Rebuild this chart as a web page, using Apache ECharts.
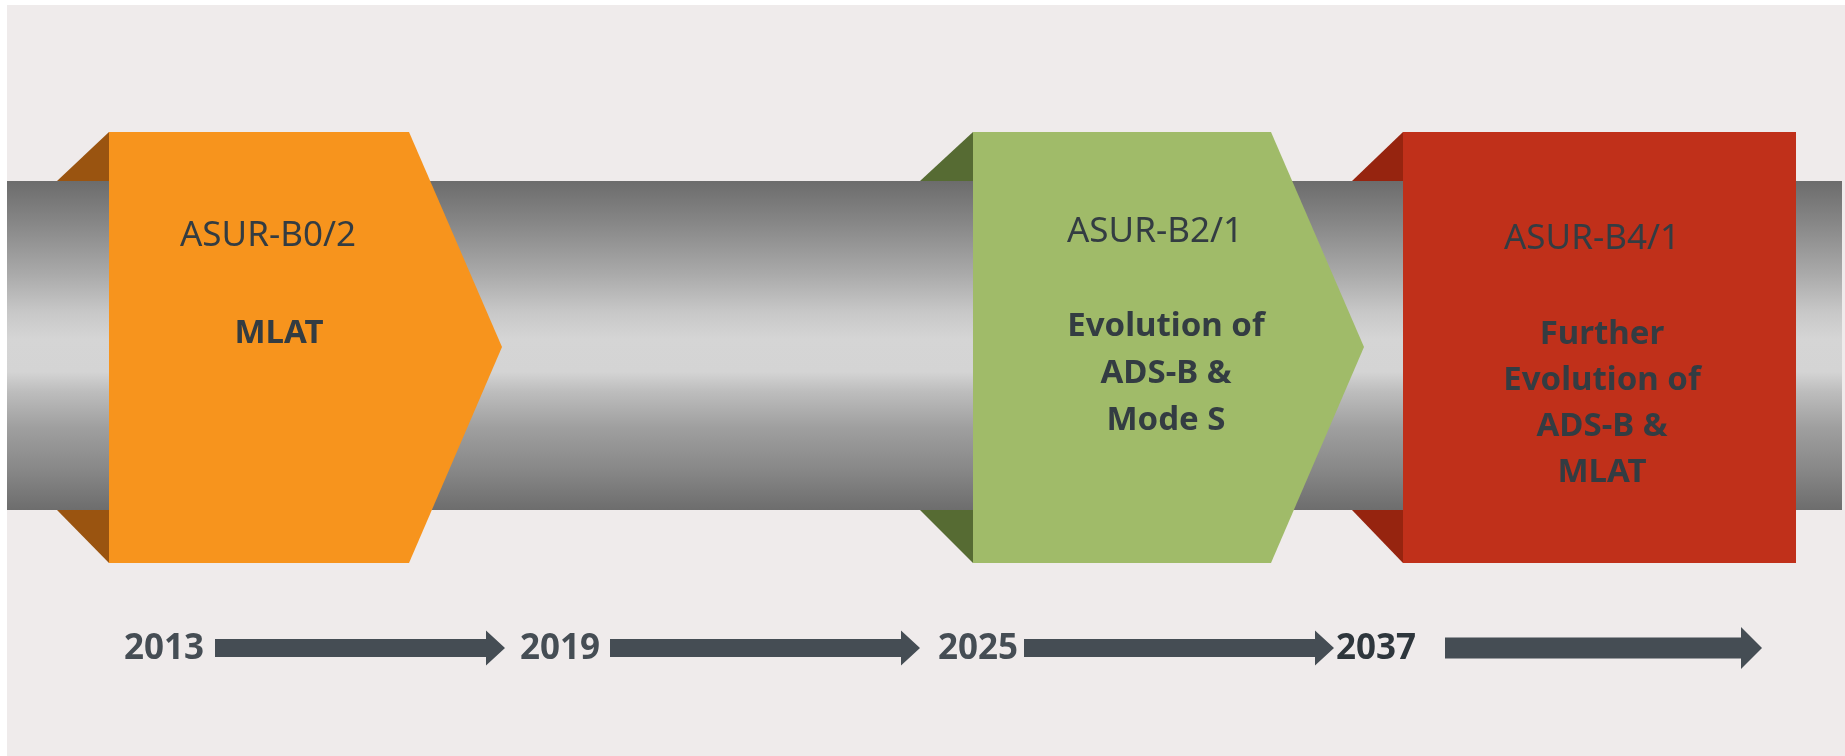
<!DOCTYPE html>
<html>
<head>
<meta charset="utf-8">
<script src="https://cdn.jsdelivr.net/npm/echarts@6/dist/echarts.min.js"></script>
<style>
  html, body { margin: 0; padding: 0; background: #ffffff; }
  #chart { width: 1845px; height: 756px; }
</style>
</head>
<body>
<div id="chart"></div>
<script>
// ---- data ----
const stageCodes = ['ASUR-B0/2', 'ASUR-B2/1', 'ASUR-B4/1'];
const stageTitles = ['MLAT', 'Evolution of\nADS-B &\nMode S', 'Further\nEvolution of\nADS-B &\nMLAT'];
const years = ['2013', '2019', '2025', '2037'];

// ---- layout (pixel space of a hidden 1845 x 756 coordinate system) ----
const W = 1845, H = 756;
const PIPE = { x0: 7, x1: 1842, top: 181, bottom: 510 };
const BOX = { top: 132, bottom: 563, mid: 347 };
const boxGeom = [
  { flap: 57, left: 109, right: 409, tip: 502, codeX: 268, codeY: 236, titleX: 279, titleY: 334, lh: 47 },
  { flap: 920, left: 973, right: 1271, tip: 1364, codeX: 1155, codeY: 232, titleX: 1166, titleY: 327, lh: 47 },
  { flap: 1352, left: 1403, right: 1796, tip: 1796, codeX: 1592, codeY: 239, titleX: 1602, titleY: 335, lh: 46 }
];
const boxStyle = [
  { face: '#f7941d', flap: '#9a5410' },
  { face: '#a0bb69', flap: '#566b33' },
  { face: '#c0301a', flap: '#96240f' }
];
const yearGeom = [
  { tx: 164, a0: 215, a1: 505, half: 9, headHalf: 17.5, head: 19, color: '#454d54' },
  { tx: 560, a0: 610, a1: 920, half: 9, headHalf: 17.5, head: 19, color: '#454d54' },
  { tx: 978, a0: 1024, a1: 1334, half: 9, headHalf: 17.5, head: 19, color: '#454d54' },
  { tx: 1376, a0: 1445, a1: 1762, half: 10.5, headHalf: 21, head: 21, color: '#2e363c' }
];
const YEAR_Y = 648;
const TEXT_COLOR = '#333c42';
const FONT = '"Noto Sans", "Open Sans", sans-serif';

const chart = echarts.init(document.getElementById('chart'), null, { renderer: 'canvas' });

function pipeRender(params, api) {
  const p0 = api.coord([PIPE.x0, PIPE.top]);
  const p1 = api.coord([PIPE.x1, PIPE.bottom]);
  return {
    type: 'group',
    children: [
      {
        type: 'rect',
        shape: { x: p0[0], y: p0[1], width: p1[0] - p0[0], height: p1[1] - p0[1] },
        style: {
          fill: {
            type: 'linear', x: 0, y: 0, x2: 0, y2: 1,
            colorStops: [
              { offset: 0, color: '#6c6c6c' },
              { offset: 0.12, color: '#858585' },
              { offset: 0.28, color: '#a9a9a9' },
              { offset: 0.40, color: '#c8c8c8' },
              { offset: 0.48, color: '#d5d5d5' },
              { offset: 0.58, color: '#d4d4d4' },
              { offset: 0.64, color: '#bdbdbd' },
              { offset: 0.75, color: '#9f9f9f' },
              { offset: 0.88, color: '#878787' },
              { offset: 1, color: '#6d6d6d' }
            ]
          }
        }
      }
    ]
  };
}

function stageRender(params, api) {
  const i = params.dataIndex;
  const g = boxGeom[i], s = boxStyle[i];
  const c = (x, y) => api.coord([x, y]);
  const children = [
    { type: 'polygon', shape: { points: [c(g.flap, PIPE.top), c(g.left, BOX.top), c(g.left, PIPE.top)] }, style: { fill: s.flap } },
    { type: 'polygon', shape: { points: [c(g.flap, PIPE.bottom), c(g.left, BOX.bottom), c(g.left, PIPE.bottom)] }, style: { fill: s.flap } },
    {
      type: 'polygon',
      shape: { points: [c(g.left, BOX.top), c(g.right, BOX.top), c(g.tip, BOX.mid), c(g.right, BOX.bottom), c(g.left, BOX.bottom)] },
      style: { fill: s.face }
    }
  ];
  const cp = c(g.codeX, g.codeY);
  children.push({
    type: 'text',
    style: {
      text: stageCodes[i], x: cp[0], y: cp[1], align: 'center', verticalAlign: 'middle',
      fontSize: 35, fontFamily: FONT, fontWeight: 'normal', fill: TEXT_COLOR
    }
  });
  const tp = c(g.titleX, g.titleY);
  children.push({
    type: 'text',
    style: {
      text: stageTitles[i], x: tp[0], y: tp[1] - g.lh / 2, align: 'center', verticalAlign: 'top',
      fontSize: 33, lineHeight: g.lh, fontFamily: FONT, fontWeight: 'bold', fill: TEXT_COLOR
    }
  });
  return { type: 'group', children };
}

function yearRender(params, api) {
  const i = params.dataIndex;
  const g = yearGeom[i];
  const c = (x, y) => api.coord([x, y]);
  const hs = g.a1 - g.head;
  const tp = c(g.tx, YEAR_Y);
  return {
    type: 'group',
    children: [
      {
        type: 'polygon',
        shape: {
          points: [
            c(g.a0, YEAR_Y - g.half), c(hs, YEAR_Y - g.half), c(hs, YEAR_Y - g.headHalf),
            c(g.a1, YEAR_Y), c(hs, YEAR_Y + g.headHalf), c(hs, YEAR_Y + g.half), c(g.a0, YEAR_Y + g.half)
          ]
        },
        style: { fill: '#454d54' }
      },
      {
        type: 'text',
        style: {
          text: years[i], x: tp[0], y: tp[1] + 1, align: 'center', verticalAlign: 'middle',
          fontSize: 35, fontFamily: FONT, fontWeight: 'bold', fill: g.color
        }
      }
    ]
  };
}

chart.setOption({
  animation: false,
  backgroundColor: '#ffffff',
  grid: { left: 0, right: 0, top: 0, bottom: 0 },
  xAxis: { type: 'value', min: 0, max: W, show: false },
  yAxis: { type: 'value', min: 0, max: H, inverse: true, show: false },
  graphic: [
    { type: 'rect', left: 7, top: 5, shape: { width: W - 7, height: H - 5 }, style: { fill: '#efebeb' }, z: -10 }
  ],
  series: [
    { type: 'custom', name: 'pipe', silent: true, renderItem: pipeRender, data: [[0]], z: 1 },
    { type: 'custom', name: 'stages', silent: true, renderItem: stageRender, data: stageCodes.map((_, i) => [i]), z: 2 },
    { type: 'custom', name: 'years', silent: true, renderItem: yearRender, data: years.map((_, i) => [i]), z: 3 }
  ]
});
</script>
</body>
</html>
